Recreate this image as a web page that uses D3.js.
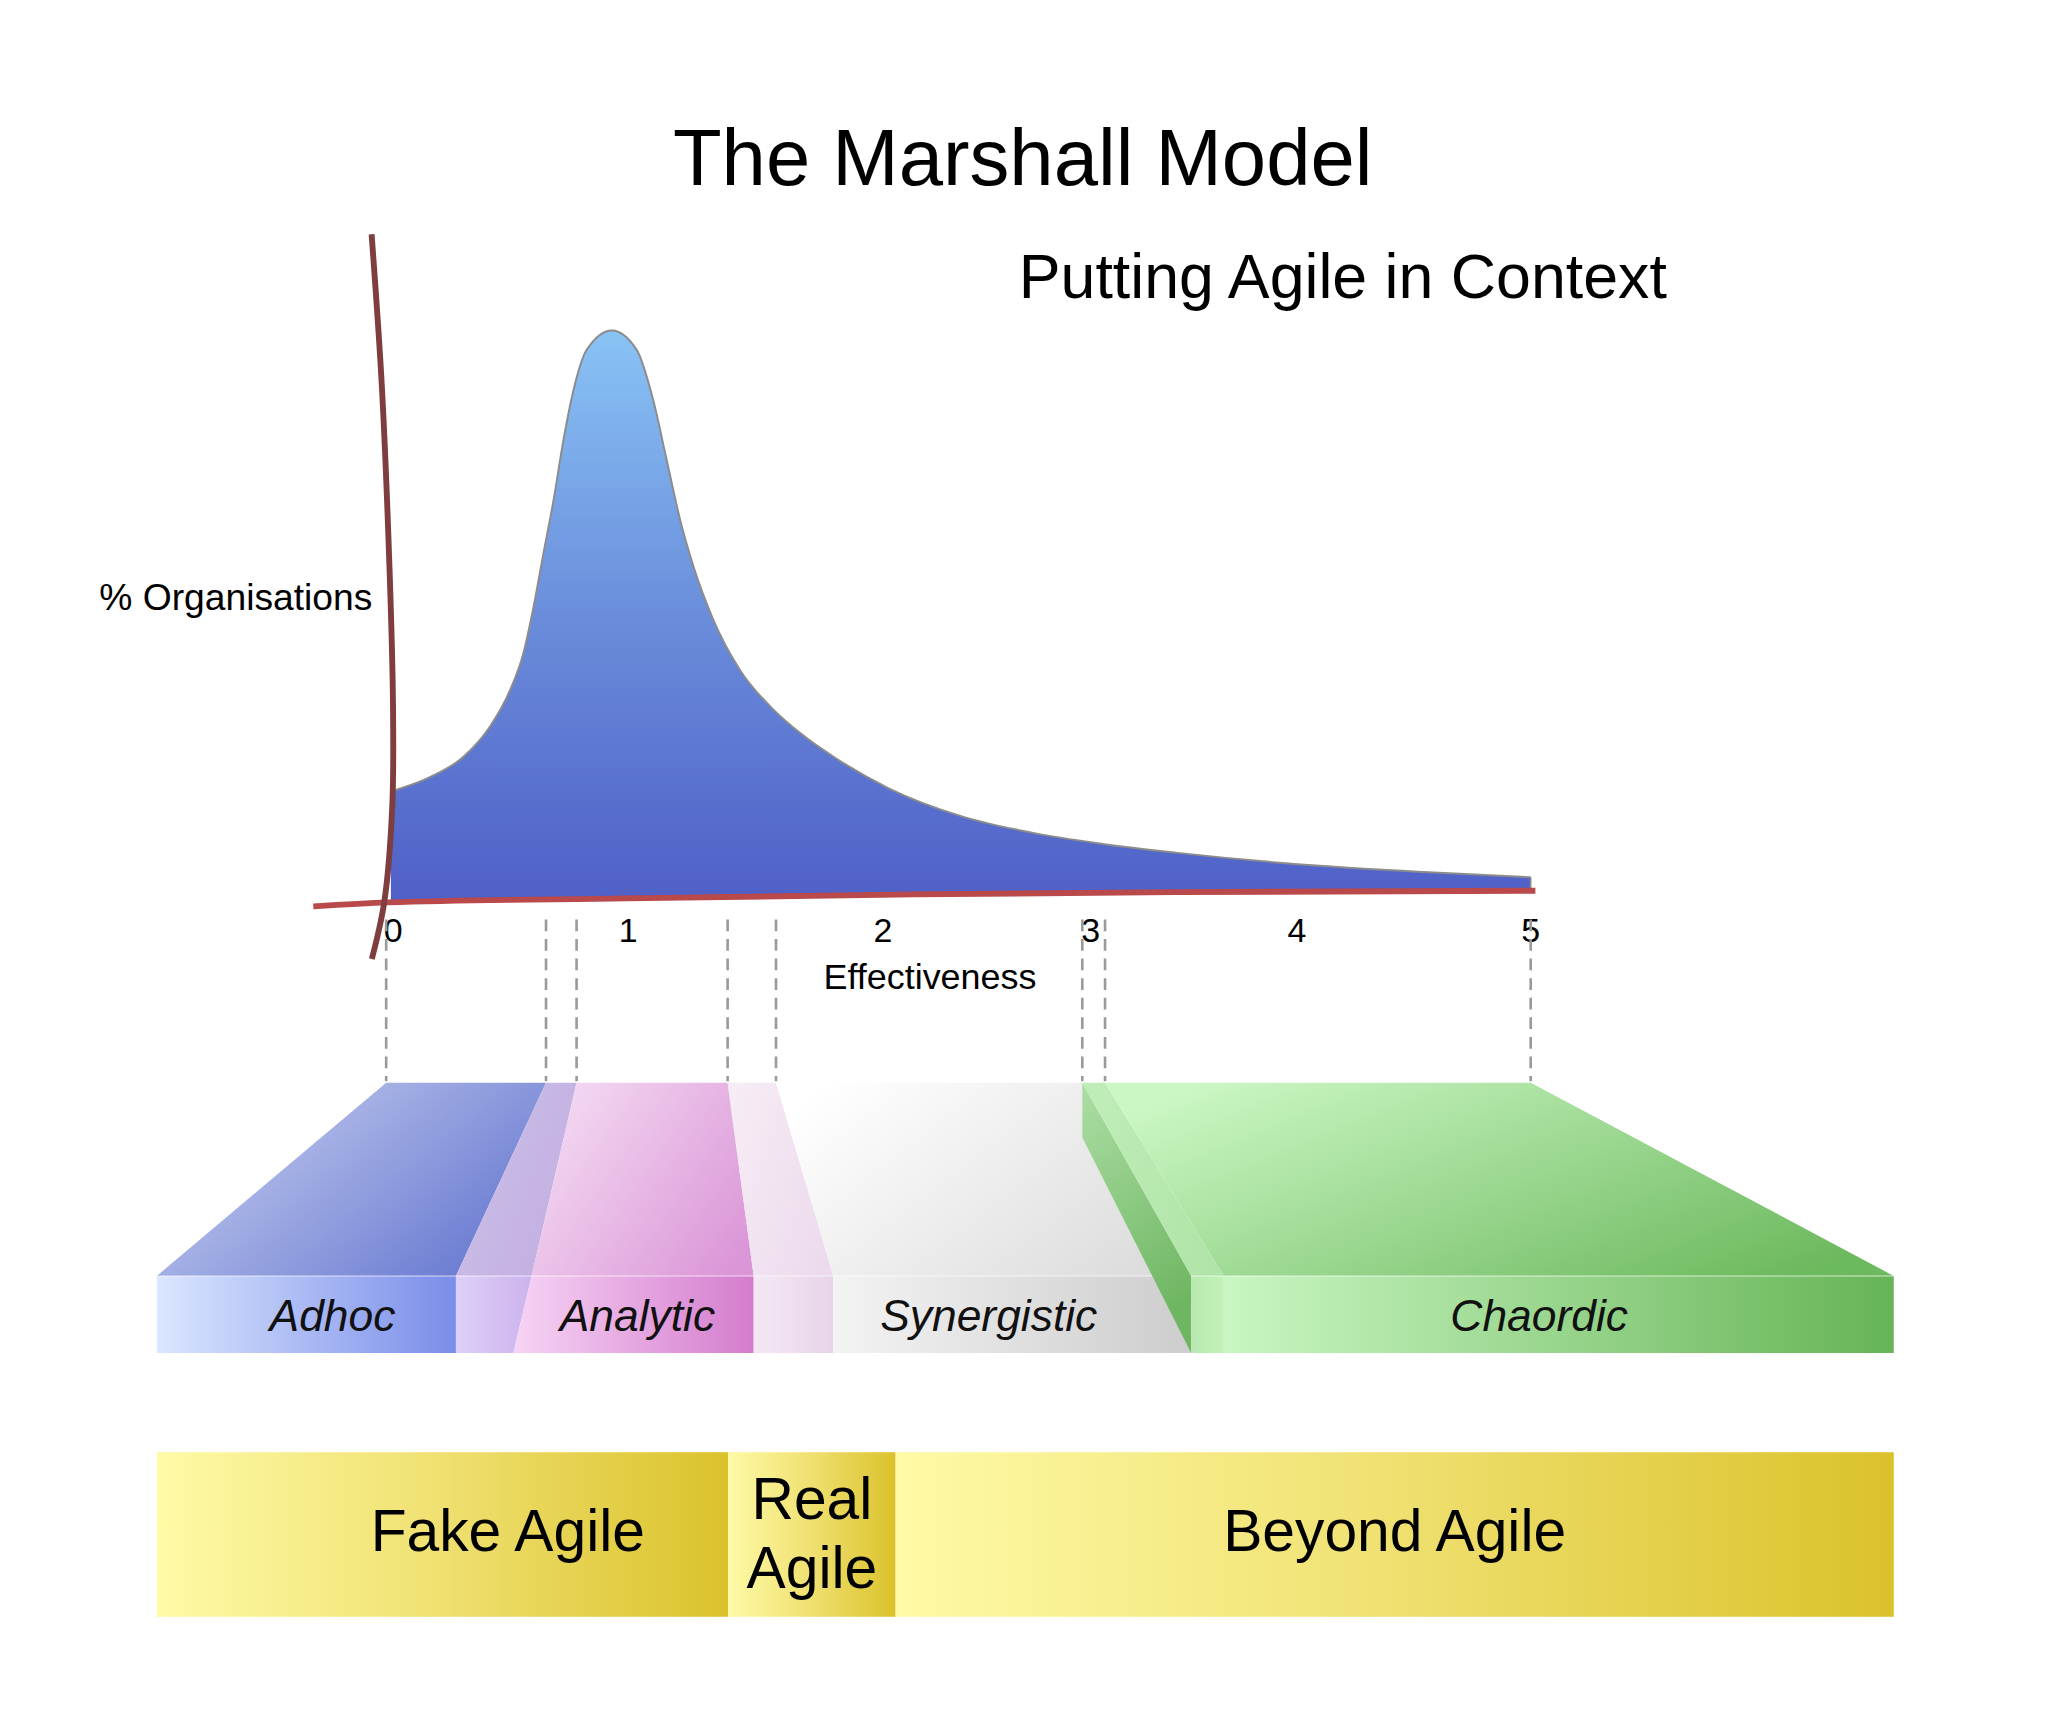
<!DOCTYPE html>
<html><head><meta charset="utf-8">
<script src="https://cdn.jsdelivr.net/npm/d3@7"></script>
<style>html,body{margin:0;padding:0;background:#fff;} svg{display:block;}</style>
</head><body>
<script>
// ---------------- data ----------------
const titleText = "The Marshall Model";
const subtitleText = "Putting Agile in Context";
const xAxisLabel = "Effectiveness";
const yAxisLabel = "% Organisations";
const tickValues = [0, 1, 2, 3, 4, 5];
const tickLabels = ["0", "1", "2", "3", "4", "5"];

// distribution curve: effectiveness vs % organisations (peak = 100)
const curveEffectiveness = [-0.01, 0.156, 0.30, 0.411, 0.497, 0.554, 0.597, 0.639, 0.682, 0.724, 0.767, 0.823, 0.930, 1.033, 1.098, 1.151, 1.204, 1.256, 1.334, 1.439, 1.570, 1.675, 1.815, 2.025, 2.384, 2.717, 3.044, 3.411, 4.095, 4.542, 5.0];
const curveOrganisations = [19.4, 21.9, 25.5, 30.7, 37.1, 43.6, 51.7, 61.0, 70.3, 80.8, 89.6, 96.6, 100, 96.6, 87.8, 77.3, 66.8, 58.7, 49.4, 40.6, 33.7, 29.6, 25.2, 20.0, 15.0, 12.2, 10.3, 8.7, 6.4, 5.3, 4.4];

// hand-drawn axes (in data units)
const xAxisEff = [-0.34, -0.02, 0.99, 2.15, 3.41, 5.02];
const xAxisVal = [-0.7, 0.0, 0.7, 1.4, 1.8, 2.05];
const yAxisEff = [-0.092, -0.049, -0.016, -0.001, -0.004, -0.038, -0.091];
const yAxisVal = [116.8, 90.7, 58.7, 34.6, 16.9, 0.1, -9.9];

// stages
const zoneNames = ["Adhoc", "", "Analytic", "", "Synergistic", "", "Chaordic"];
const zoneBounds = [-0.03, 0.65, 0.78, 1.39, 1.58, 2.96, 3.07, 5.0];

// agility bands
const agileNames = [["Fake Agile"], ["Real", "Agile"], ["Beyond Agile"]];
const agileBounds = [-0.03, 1.32, 1.82, 5.0];

// ---------------- layout ----------------
const W = 1568, H = 1327;
const FONT = "'Liberation Sans', Arial, Helvetica, sans-serif";
const svg = d3.select("body").append("svg")
  .attr("width", 2048).attr("height", 1733)
  .attr("viewBox", `0 0 ${W} ${H}`);
const defs = svg.append("defs");
function lg(id, stops, x1 = 0, y1 = 0, x2 = 1, y2 = 0) {
  const g = defs.append("linearGradient").attr("id", id)
    .attr("x1", x1).attr("y1", y1).attr("x2", x2).attr("y2", y2);
  stops.forEach((c, i) => g.append("stop").attr("offset", i / (stops.length - 1)).attr("stop-color", c));
  return `url(#${id})`;
}

const x = d3.scaleLinear().domain(tickValues).range([301, 481, 676, 835, 993, 1172]);
const y = d3.scaleLinear().domain([0, 100]).range([691, 253]);
const xFront = d3.scaleLinear().domain(zoneBounds).range([120, 349, 407, 577, 638, 912, 937, 1450]);
const xFrontBottom = d3.scaleLinear().domain(zoneBounds).range([120, 349, 393, 577, 638, 912, 937, 1450]);
const baseline = d3.scaleLinear().domain(xAxisEff).range(xAxisVal);

const topY = 829, frontTop = 977, frontBottom = 1036;
const agileTop = 1112, agileBottom = 1238;

// ---------------- titles ----------------
svg.append("text").attr("x", 783).attr("y", 142).attr("text-anchor", "middle")
  .attr("font-family", FONT).attr("font-size", 61).attr("fill", "#000").text(titleText);
svg.append("text").attr("x", 780).attr("y", 228).attr("text-anchor", "start")
  .attr("font-family", FONT).attr("font-size", 48).attr("fill", "#000").text(subtitleText);

// ---------------- curve ----------------
const curveData = curveEffectiveness.map((e, i) => ({e, v: curveOrganisations[i]}));
const areaFill = defs.append("linearGradient").attr("id", "curveGrad")
  .attr("gradientUnits", "userSpaceOnUse").attr("x1", 0).attr("x2", 0)
  .attr("y1", y(100)).attr("y2", y(0));
areaFill.append("stop").attr("offset", 0).attr("stop-color", "#89c3f5");
areaFill.append("stop").attr("offset", 0.5).attr("stop-color", "#6a8ddb");
areaFill.append("stop").attr("offset", 1).attr("stop-color", "#4f5fc7");

svg.append("path").datum(curveData)
  .attr("d", d3.area().x(d => x(d.e)).y0(d => y(baseline(d.e))).y1(d => y(d.v)).curve(d3.curveMonotoneX))
  .attr("fill", "url(#curveGrad)");
svg.append("path").datum(curveData)
  .attr("d", d3.line().x(d => x(d.e)).y(d => y(d.v)).curve(d3.curveMonotoneX))
  .attr("fill", "none").attr("stroke", "#8c8c8c").attr("stroke-width", 1.5);
// right end edge
svg.append("line")
  .attr("x1", x(5)).attr("x2", x(5))
  .attr("y1", y(curveOrganisations[curveOrganisations.length - 1])).attr("y2", y(baseline(5)))
  .attr("stroke", "#8c8c8c").attr("stroke-width", 1.2);

// ---------------- axes ----------------
const xAxisPts = xAxisEff.map((e, i) => [x(e), y(xAxisVal[i])]);
svg.append("path").datum(xAxisPts)
  .attr("d", d3.line().curve(d3.curveMonotoneX))
  .attr("fill", "none").attr("stroke", "#b9494a").attr("stroke-width", 4.5);
const yAxisPts = yAxisEff.map((e, i) => [x(e), y(yAxisVal[i])]);
svg.append("path").datum(yAxisPts)
  .attr("d", d3.line().curve(d3.curveCatmullRom))
  .attr("fill", "none").attr("stroke", "#7e3d3e").attr("stroke-width", 4.5);

// tick labels
svg.append("g").selectAll("text").data(tickValues).join("text")
  .attr("x", d => x(d)).attr("y", 721).attr("text-anchor", "middle")
  .attr("font-family", FONT).attr("font-size", 26).attr("fill", "#000")
  .text((d, i) => tickLabels[i]);
svg.append("text").attr("x", 712).attr("y", 757).attr("text-anchor", "middle")
  .attr("font-family", FONT).attr("font-size", 27.5).text(xAxisLabel);
svg.append("text").attr("x", 285).attr("y", 467).attr("text-anchor", "end")
  .attr("font-family", FONT).attr("font-size", 28.5).text(yAxisLabel);

// dashed guides
svg.append("g").selectAll("line").data(zoneBounds).join("line")
  .attr("x1", d => x(d)).attr("x2", d => x(d))
  .attr("y1", 704).attr("y2", topY - 1)
  .attr("stroke", "#9a9a9a").attr("stroke-width", 2).attr("stroke-dasharray", "9,6");

// ---------------- stage blocks ----------------
const zoneStyles = [
  {top: ["#c6cef0", "#6576cf"], front: ["#dbe6ff", "#7a8de9"]},
  {top: ["#cbbfe6", "#c2aee2"], front: ["#ddd0f6", "#cdb3ee"]},
  {top: ["#f4dbf3", "#db96d7"], front: ["#f6d4f5", "#d47ccd"]},
  {top: ["#f6ecf5", "#ecdaec"], front: ["#f4e8f4", "#e8d4e8"]},
  {top: ["#ffffff", "#dcdcdc"], front: ["#f3f3f3", "#cdcdcd"]},
  {top: ["#bfedb8", "#b0e4a8"], front: ["#b7e9b0", "#c2f2ba"]},
  {top: ["#cbf7c4", "#6db95e"], front: ["#c9f6c2", "#67b457"]}
];
const blocks = svg.append("g");
zoneNames.forEach((name, i) => {
  const b0 = zoneBounds[i], b1 = zoneBounds[i + 1];
  const st = zoneStyles[i];
  const topPoly = [[x(b0), topY], [x(b1), topY], [xFront(b1), frontTop], [xFront(b0), frontTop]];
  const frontPoly = [[xFront(b0), frontTop], [xFront(b1), frontTop], [xFrontBottom(b1), frontBottom], [xFrontBottom(b0), frontBottom]];
  blocks.append("polygon").attr("points", topPoly.map(p => p.join(",")).join(" "))
    .attr("fill", lg("zt" + i, st.top, 0, 0.2, 1, 0.8));
  blocks.append("polygon").attr("points", frontPoly.map(p => p.join(",")).join(" "))
    .attr("fill", lg("zf" + i, st.front));
  blocks.append("line").attr("x1", xFront(b0)).attr("x2", xFront(b1))
    .attr("y1", frontTop).attr("y2", frontTop)
    .attr("stroke", "#ffffff").attr("stroke-opacity", 0.35).attr("stroke-width", 1.5);
  if (name === "Analytic") {
    blocks.append("polygon")
      .attr("points", [[x(b1), topY], [x(b1) + 3, topY], [xFront(b1) + 3, frontTop], [xFront(b1), frontTop]].map(p => p.join(",")).join(" "))
      .attr("fill", "#cfcfcf");
  }
  if (name === "Synergistic") {
    blocks.append("polygon")
      .attr("points", [[x(b1), topY], [xFront(b1), frontTop], [xFrontBottom(b1), frontBottom], [x(b1), topY + 42]].map(p => p.join(",")).join(" "))
      .attr("fill", lg("side", ["#acdea4", "#6fb662"], 0, 0, 0.3, 1));
  }
});

// stage labels
const zoneNudge = {"Adhoc": 20, "Analytic": -4, "Synergistic": -18, "Chaordic": -15};
svg.append("g").selectAll("text").data(zoneNames.map((n, i) => ({n, i})).filter(d => d.n))
  .join("text")
  .attr("x", d => (xFront(zoneBounds[d.i]) + xFront(zoneBounds[d.i + 1])) / 2 + (zoneNudge[d.n] || 0))
  .attr("y", 1019).attr("text-anchor", "middle")
  .attr("font-family", FONT).attr("font-style", "italic").attr("font-size", 34).attr("fill", "#111")
  .text(d => d.n);

// ---------------- agility bands ----------------
const agileNudge = {"Fake Agile": 50};
agileNames.forEach((lines, i) => {
  const a0 = xFront(agileBounds[i]), a1 = xFront(agileBounds[i + 1]);
  svg.append("rect").attr("x", a0).attr("y", agileTop).attr("width", a1 - a0).attr("height", agileBottom - agileTop)
    .attr("fill", lg("ag" + i, ["#fefaa6", "#efe070", "#dbc22b"]));
  const cx = (a0 + a1) / 2 + (agileNudge[lines.join(" ")] || 0);
  const t = svg.append("text").attr("text-anchor", "middle")
    .attr("font-family", FONT).attr("font-size", 45).attr("fill", "#000");
  if (lines.length === 1) {
    t.attr("x", cx).attr("y", 1188).text(lines[0]);
  } else {
    lines.forEach((ln, k) => t.append("tspan").attr("x", cx).attr("y", 1163 + k * 53).text(ln));
  }
});
</script>
</body></html>
